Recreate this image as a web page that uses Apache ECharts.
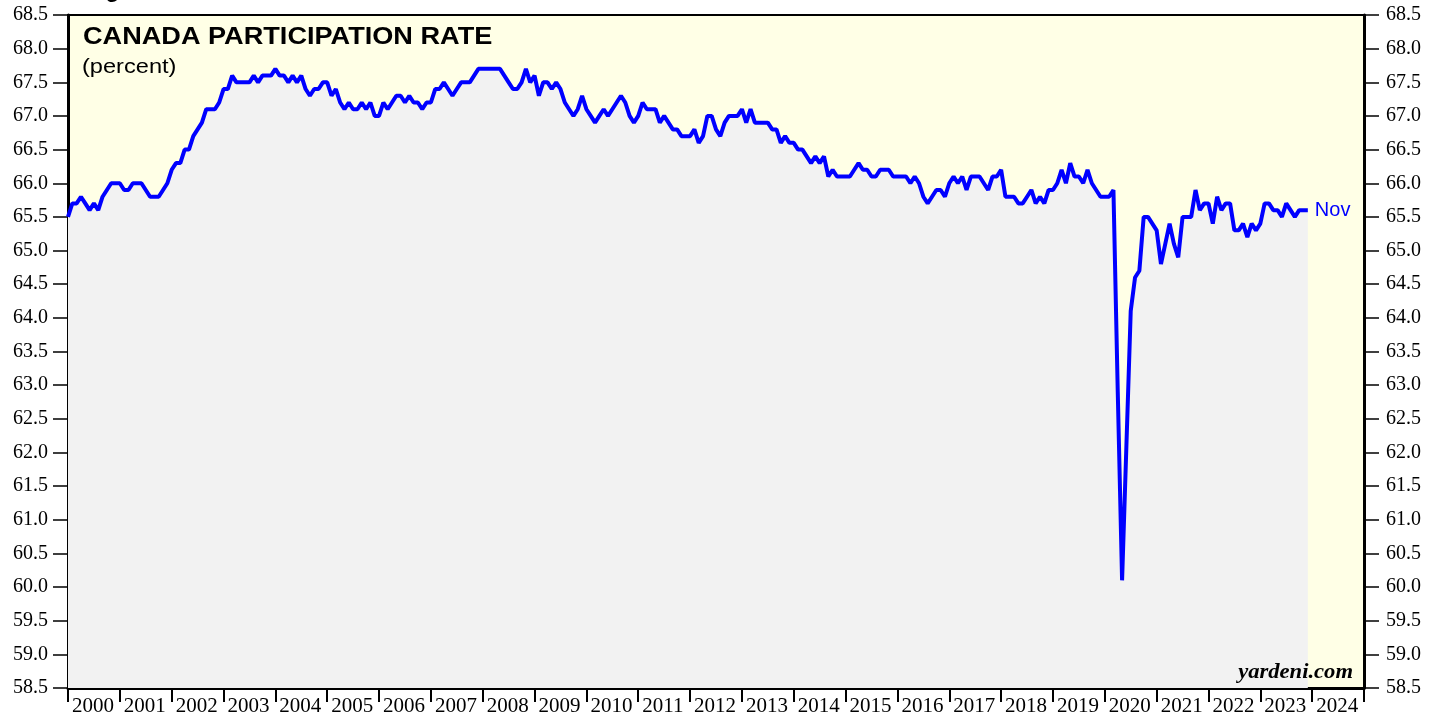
<!DOCTYPE html>
<html>
<head>
<meta charset="utf-8">
<title>Canada Participation Rate</title>
<script src="https://cdn.jsdelivr.net/npm/echarts@6.0.0/dist/echarts.min.js"></script>
<style>
  html, body { margin: 0; padding: 0; background: #fff; }
  #chart { width: 1441px; height: 719px; }
</style>
</head>
<body>
<div id="chart"></div>
<script>
// monthly participation rate (percent), first value is Dec 1999, last is Nov 2023
// points sit at month end, so Dec 1999 lands on 2000.0
const firstMonthPos = 2000;
const rate1999 = [65.5];
const rate2000 = [65.7, 65.7, 65.8, 65.7, 65.6, 65.7, 65.6, 65.8, 65.9, 66.0, 66.0, 66.0];
const rate2001 = [65.9, 65.9, 66.0, 66.0, 66.0, 65.9, 65.8, 65.8, 65.8, 65.9, 66.0, 66.2];
const rate2002 = [66.3, 66.3, 66.5, 66.5, 66.7, 66.8, 66.9, 67.1, 67.1, 67.1, 67.2, 67.4];
const rate2003 = [67.4, 67.6, 67.5, 67.5, 67.5, 67.5, 67.6, 67.5, 67.6, 67.6, 67.6, 67.7];
const rate2004 = [67.6, 67.6, 67.5, 67.6, 67.5, 67.6, 67.4, 67.3, 67.4, 67.4, 67.5, 67.5];
const rate2005 = [67.3, 67.4, 67.2, 67.1, 67.2, 67.1, 67.1, 67.2, 67.1, 67.2, 67.0, 67.0];
const rate2006 = [67.2, 67.1, 67.2, 67.3, 67.3, 67.2, 67.3, 67.2, 67.2, 67.1, 67.2, 67.2];
const rate2007 = [67.4, 67.4, 67.5, 67.4, 67.3, 67.4, 67.5, 67.5, 67.5, 67.6, 67.7, 67.7];
const rate2008 = [67.7, 67.7, 67.7, 67.7, 67.6, 67.5, 67.4, 67.4, 67.5, 67.7, 67.5, 67.6];
const rate2009 = [67.3, 67.5, 67.5, 67.4, 67.5, 67.4, 67.2, 67.1, 67.0, 67.1, 67.3, 67.1];
const rate2010 = [67.0, 66.9, 67.0, 67.1, 67.0, 67.1, 67.2, 67.3, 67.2, 67.0, 66.9, 67.0];
const rate2011 = [67.2, 67.1, 67.1, 67.1, 66.9, 67.0, 66.9, 66.8, 66.8, 66.7, 66.7, 66.7];
const rate2012 = [66.8, 66.6, 66.7, 67.0, 67.0, 66.8, 66.7, 66.9, 67.0, 67.0, 67.0, 67.1];
const rate2013 = [66.9, 67.1, 66.9, 66.9, 66.9, 66.9, 66.8, 66.8, 66.6, 66.7, 66.6, 66.6];
const rate2014 = [66.5, 66.5, 66.4, 66.3, 66.4, 66.3, 66.4, 66.1, 66.2, 66.1, 66.1, 66.1];
const rate2015 = [66.1, 66.2, 66.3, 66.2, 66.2, 66.1, 66.1, 66.2, 66.2, 66.2, 66.1, 66.1];
const rate2016 = [66.1, 66.1, 66.0, 66.1, 66.0, 65.8, 65.7, 65.8, 65.9, 65.9, 65.8, 66.0];
const rate2017 = [66.1, 66.0, 66.1, 65.9, 66.1, 66.1, 66.1, 66.0, 65.9, 66.1, 66.1, 66.2];
const rate2018 = [65.8, 65.8, 65.8, 65.7, 65.7, 65.8, 65.9, 65.7, 65.8, 65.7, 65.9, 65.9];
const rate2019 = [66.0, 66.2, 66.0, 66.3, 66.1, 66.1, 66.0, 66.2, 66.0, 65.9, 65.8, 65.8];
const rate2020 = [65.8, 65.9, 62.9, 60.1, 62.1, 64.1, 64.6, 64.7, 65.5, 65.5, 65.4, 65.3];
const rate2021 = [64.8, 65.1, 65.4, 65.1, 64.9, 65.5, 65.5, 65.5, 65.9, 65.6, 65.7, 65.7];
const rate2022 = [65.4, 65.8, 65.6, 65.7, 65.7, 65.3, 65.3, 65.4, 65.2, 65.4, 65.3, 65.4];
const rate2023 = [65.7, 65.7, 65.6, 65.6, 65.5, 65.7, 65.6, 65.5, 65.6, 65.6, 65.6];

const yearLabels = ['2000', '2001', '2002', '2003', '2004', '2005', '2006', '2007', '2008',
  '2009', '2010', '2011', '2012', '2013', '2014', '2015', '2016', '2017', '2018', '2019',
  '2020', '2021', '2022', '2023', '2024'];
const lastLabel = 'Nov';

const rate = [].concat(rate1999, rate2000, rate2001, rate2002, rate2003, rate2004, rate2005,
  rate2006, rate2007, rate2008, rate2009, rate2010, rate2011, rate2012, rate2013, rate2014,
  rate2015, rate2016, rate2017, rate2018, rate2019, rate2020, rate2021, rate2022, rate2023);
const points = rate.map((v, i) => [firstMonthPos + i / 12, v]);

const chart = echarts.init(document.getElementById('chart'), null, { renderer: 'canvas' });
const serif = '"Liberation Serif", "Times New Roman", serif';
const sans = '"Liberation Sans", Arial, sans-serif';

const yAxisBase = {
  type: 'value',
  min: 58.5,
  max: 68.5,
  interval: 0.5,
  splitLine: { show: false },
  axisLine: { show: true, lineStyle: { color: '#000', width: 3 } },
  axisTick: { show: true, inside: false, length: 15, lineStyle: { color: '#000', width: 1.5 } },
  axisLabel: {
    color: '#000', fontFamily: serif, fontSize: 20, margin: 20,
    formatter: (v) => v.toFixed(1)
  }
};

chart.setOption({
  animation: false,
  backgroundColor: '#fff',
  grid: {
    left: 68, right: 77, top: 15, bottom: 31,
    show: true, backgroundColor: '#ffffe6', borderColor: '#000', borderWidth: 2
  },
  xAxis: {
    type: 'value',
    min: 2000,
    max: 2025,
    interval: 1,
    splitLine: { show: false },
    axisLine: { show: true, lineStyle: { color: '#000', width: 3 } },
    axisTick: { show: true, length: 14, lineStyle: { color: '#000', width: 2 } },
    axisLabel: {
      color: '#000', fontFamily: serif, fontSize: 21, margin: 8,
      align: 'left', padding: [0, 0, 0, 4],
      showMinLabel: true, showMaxLabel: true,
      formatter: (v) => yearLabels[Math.round(v) - 2000] || ''
    }
  },
  yAxis: [
    Object.assign({}, yAxisBase, { position: 'left' }),
    Object.assign({}, yAxisBase, { position: 'right', axisLabel: Object.assign({}, yAxisBase.axisLabel, { margin: 22 }) })
  ],
  // the source fonts look a bit wider than ours, hence the scaleX
  graphic: [
    { type: 'text', z: 100, x: 85, y: -9, style: { text: 'Figure', font: 'bold 23px ' + sans, fill: '#000', verticalAlign: 'middle' } },
    { type: 'text', z: 100, x: 83, y: 37, scaleX: 1.13, style: { text: 'CANADA PARTICIPATION RATE', font: 'bold 24px ' + sans, fill: '#000', verticalAlign: 'middle' } },
    { type: 'text', z: 100, x: 82, y: 67, scaleX: 1.18, style: { text: '(percent)', font: '20px ' + sans, fill: '#000', verticalAlign: 'middle' } },
    { type: 'text', z: 100, x: 1353, y: 673, scaleX: 1.13, style: { text: 'yardeni.com', font: 'italic bold 20px ' + serif, fill: '#000', align: 'right', verticalAlign: 'middle' } }
  ],
  series: [{
    type: 'line',
    data: points,
    showSymbol: false,
    lineStyle: { color: '#0000ff', width: 4 },
    areaStyle: { color: '#f2f2f2', opacity: 1, origin: 'start' },
    endLabel: {
      show: true, formatter: lastLabel, color: '#0000ff',
      fontFamily: sans, fontSize: 20, distance: 7
    },
    z: 3
  }]
});
</script>
</body>
</html>
